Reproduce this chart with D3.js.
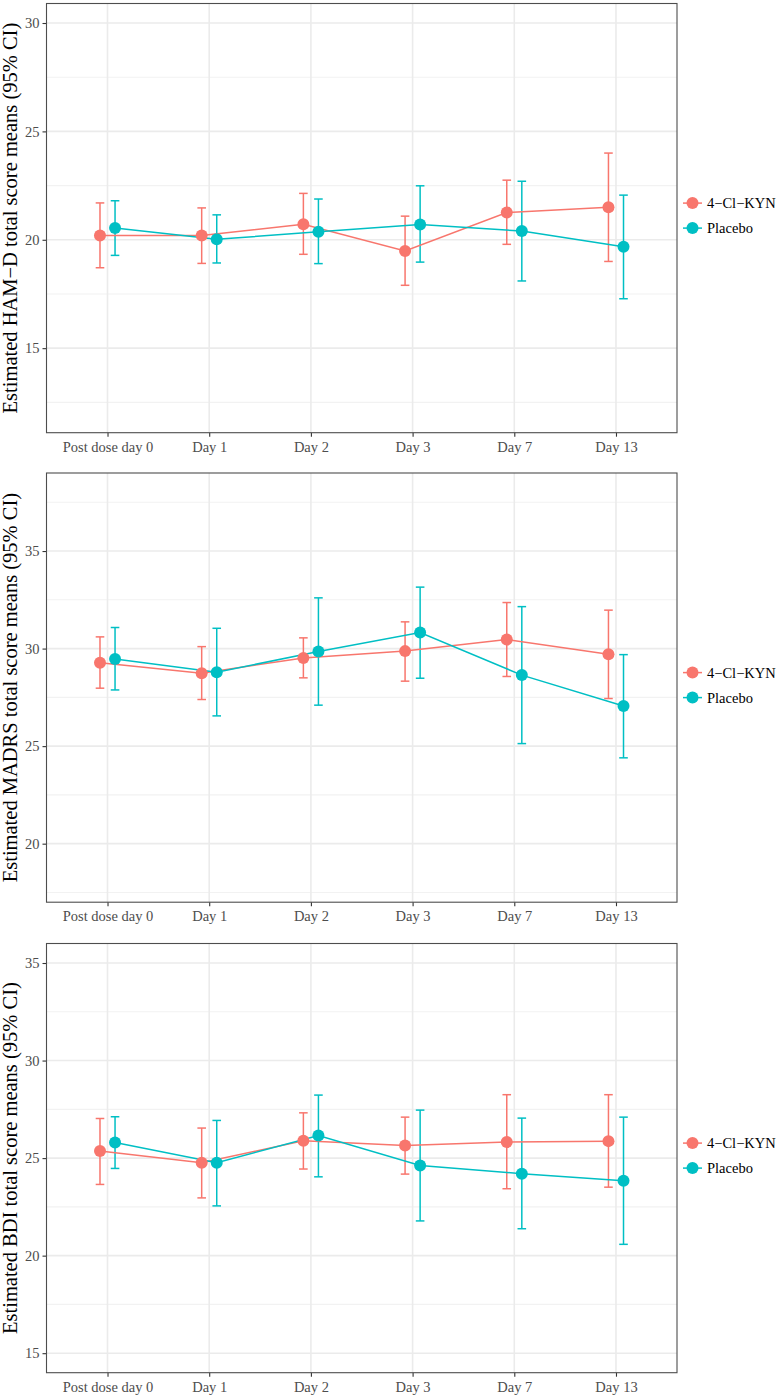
<!DOCTYPE html>
<html><head><meta charset="utf-8">
<script src="https://cdnjs.cloudflare.com/ajax/libs/d3/7.8.5/d3.min.js"></script>
<style>html,body{margin:0;padding:0;background:#fff;}svg{display:block;}</style>
</head><body>
<script>
// ---------- DATA ----------
const days = ["Post dose day 0", "Day 1", "Day 2", "Day 3", "Day 7", "Day 13"];
const groups = ["4\u2212Cl\u2212KYN", "Placebo"];
const colors = ["#F8766D", "#00BFC4"];

// HAM-D
const hamdKynMean = [20.20, 20.20, 20.72, 19.48, 21.26, 21.50];
const hamdKynLow  = [18.71, 18.91, 19.33, 17.90, 19.79, 19.00];
const hamdKynHigh = [21.70, 21.47, 22.14, 21.09, 22.75, 24.00];
const hamdPboMean = [20.54, 20.02, 20.37, 20.71, 20.40, 19.68];
const hamdPboLow  = [19.28, 18.93, 18.90, 18.97, 18.10, 17.28];
const hamdPboHigh = [21.80, 21.15, 21.88, 22.49, 22.70, 22.06];

// MADRS
const madrsKynMean = [29.27, 28.74, 29.52, 29.87, 30.46, 29.71];
const madrsKynLow  = [27.97, 27.39, 28.50, 28.33, 28.57, 27.44];
const madrsKynHigh = [30.60, 30.10, 30.55, 31.37, 32.36, 31.97];
const madrsPboMean = [29.47, 28.79, 29.85, 30.82, 28.64, 27.06];
const madrsPboLow  = [27.88, 26.55, 27.10, 28.48, 25.13, 24.40];
const madrsPboHigh = [31.08, 31.04, 32.60, 33.15, 32.15, 29.69];

// BDI
const bdiKynMean = [25.36, 24.76, 25.89, 25.65, 25.82, 25.87];
const bdiKynLow  = [23.65, 22.96, 24.44, 24.18, 23.43, 23.51];
const bdiKynHigh = [27.03, 26.54, 27.32, 27.10, 28.25, 28.25];
const bdiPboMean = [25.80, 24.76, 26.16, 24.62, 24.20, 23.84];
const bdiPboLow  = [24.47, 22.55, 24.04, 21.78, 21.38, 20.58];
const bdiPboHigh = [27.12, 26.93, 28.23, 27.46, 27.05, 27.10];

// axes
const hamdTicks = [15, 20, 25, 30];
const madrsTicks = [20, 25, 30, 35];
const bdiTicks = [15, 20, 25, 30, 35];
const hamdLimits = [12, 30];
const madrsLimits = [18, 38];
const bdiLimits = [15, 35];
const titles = [
  "Estimated HAM\u2212D total score means (95% CI)",
  "Estimated MADRS total score means (95% CI)",
  "Estimated BDI total score means (95% CI)"
];

const panels = [
  {title: titles[0], ticks: hamdTicks, limits: hamdLimits,
   series: [[hamdKynMean, hamdKynLow, hamdKynHigh], [hamdPboMean, hamdPboLow, hamdPboHigh]]},
  {title: titles[1], ticks: madrsTicks, limits: madrsLimits,
   series: [[madrsKynMean, madrsKynLow, madrsKynHigh], [madrsPboMean, madrsPboLow, madrsPboHigh]]},
  {title: titles[2], ticks: bdiTicks, limits: bdiLimits,
   series: [[bdiKynMean, bdiKynLow, bdiKynHigh], [bdiPboMean, bdiPboLow, bdiPboHigh]]}
];

// ---------- LAYOUT ----------
const W = 780, H = 1397;
const left = 46.5, right = 677;
const tops = [3.5, 473, 943.5];
const panelH = 429.2;
const font = "'Liberation Serif','Times New Roman',serif";

const svg = d3.select("body").append("svg").attr("width", W).attr("height", H)
  .style("font-family", font);

const x = d3.scalePoint().domain(days).range([left, right]).padding(0.6);
const dodge = x.step() * 0.074;

panels.forEach((p, pi) => {
  const top = tops[pi], bottom = top + panelH;
  const span = p.limits[1] - p.limits[0];
  const y = d3.scaleLinear()
    .domain([p.limits[0] - 0.05 * span, p.limits[1] + 0.05 * span])
    .range([bottom, top]);
  const g = svg.append("g");

  // grid
  const minors = p.ticks.map(t => t - 2.5).concat([p.ticks[p.ticks.length - 1] + 2.5])
    .filter(v => v > y.domain()[0] && v < y.domain()[1]);
  g.selectAll(".ymin").data(minors).join("line")
    .attr("x1", left).attr("x2", right).attr("y1", d => y(d)).attr("y2", d => y(d))
    .attr("stroke", "#F2F2F2").attr("stroke-width", 1.1);
  g.selectAll(".ymaj").data(p.ticks).join("line")
    .attr("x1", left).attr("x2", right).attr("y1", d => y(d)).attr("y2", d => y(d))
    .attr("stroke", "#EBEBEB").attr("stroke-width", 1.6);
  g.selectAll(".xmaj").data(days).join("line")
    .attr("x1", d => x(d)).attr("x2", d => x(d)).attr("y1", top).attr("y2", bottom)
    .attr("stroke", "#EBEBEB").attr("stroke-width", 1.6);

  // axes
  const yAxis = g.append("g").attr("transform", `translate(${left},0)`)
    .call(d3.axisLeft(y).tickValues(p.ticks).tickSize(4).tickPadding(3).tickFormat(d3.format("d")));
  yAxis.select(".domain").remove();
  yAxis.selectAll("line").attr("stroke", "#333").attr("stroke-width", 1.1);
  yAxis.selectAll("text").attr("fill", "#4D4D4D").style("font-size", "14.5px").style("font-family", font);

  const xAxis = g.append("g").attr("transform", `translate(0,${bottom})`)
    .call(d3.axisBottom(x).tickSize(4).tickPadding(5));
  xAxis.select(".domain").remove();
  xAxis.selectAll("line").attr("stroke", "#333").attr("stroke-width", 1.1);
  xAxis.selectAll("text").attr("fill", "#4D4D4D").style("font-size", "14.5px").style("font-family", font);

  // panel border
  g.append("rect").attr("x", left).attr("y", top).attr("width", right - left).attr("height", panelH)
    .attr("fill", "none").attr("stroke", "#4D4D4D").attr("stroke-width", 1.1);

  // y title
  g.append("text")
    .attr("transform", `translate(17,${(top + bottom) / 2}) rotate(-90)`)
    .attr("text-anchor", "middle").style("font-size", "20.5px").attr("fill", "#000")
    .text(p.title);

  // series
  const off = [-dodge, dodge];
  p.series.forEach((s, si) => {
    const [m, lo, hi] = s;
    const pts = days.map((d, i) => ({x: x(d) + off[si], m: m[i], lo: lo[i], hi: hi[i]}));
    const eg = g.append("g").attr("stroke", colors[si]).attr("stroke-width", 1.5);
    eg.selectAll(".v").data(pts).join("line")
      .attr("x1", d => d.x).attr("x2", d => d.x).attr("y1", d => y(d.lo)).attr("y2", d => y(d.hi));
    eg.selectAll(".t").data(pts).join("line")
      .attr("x1", d => d.x - 4.3).attr("x2", d => d.x + 4.3).attr("y1", d => y(d.hi)).attr("y2", d => y(d.hi));
    eg.selectAll(".b").data(pts).join("line")
      .attr("x1", d => d.x - 4.3).attr("x2", d => d.x + 4.3).attr("y1", d => y(d.lo)).attr("y2", d => y(d.lo));
  });
  p.series.forEach((s, si) => {
    const pts = days.map((d, i) => ({x: x(d) + off[si], m: s[0][i]}));
    g.append("path").datum(pts)
      .attr("d", d3.line().x(d => d.x).y(d => y(d.m)))
      .attr("fill", "none").attr("stroke", colors[si]).attr("stroke-width", 1.5);
  });
  p.series.forEach((s, si) => {
    const pts = days.map((d, i) => ({x: x(d) + off[si], m: s[0][i]}));
    g.selectAll(null).data(pts).join("circle")
      .attr("cx", d => d.x).attr("cy", d => y(d.m)).attr("r", 6)
      .attr("fill", colors[si]);
  });

  // legend
  const lc = (top + bottom) / 2 - 2.5;
  const lg = g.append("g");
  groups.forEach((name, gi) => {
    const cy = lc - 12.5 + gi * 25;
    lg.append("line").attr("x1", 683).attr("x2", 702).attr("y1", cy).attr("y2", cy)
      .attr("stroke", colors[gi]).attr("stroke-width", 1.5);
    lg.append("circle").attr("cx", 692.5).attr("cy", cy).attr("r", 6).attr("fill", colors[gi]);
    lg.append("text").attr("x", 707).attr("y", cy).attr("dy", "0.35em")
      .style("font-size", "14.5px").attr("fill", "#000").text(name);
  });
});
</script>
</body></html>
